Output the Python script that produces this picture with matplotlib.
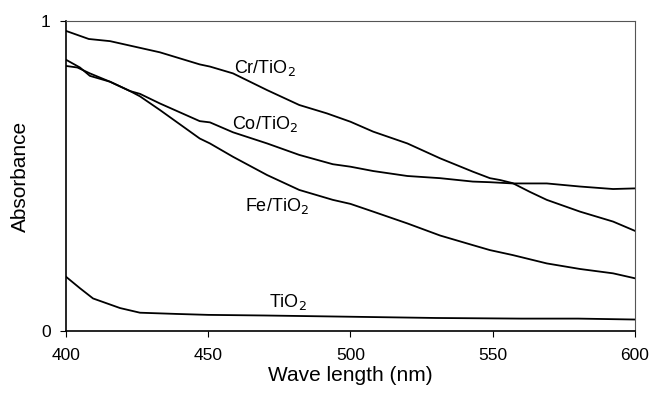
import numpy as np
import matplotlib
matplotlib.use("Agg")
import matplotlib.pyplot as plt

plt.rcParams['font.family'] = ['Liberation Sans', 'DejaVu Sans']

# spectra (wavelength nm, absorbance)
cr_wl = [400, 408, 415.5, 433, 447, 450.6, 458.7, 470.7, 482, 491.7, 500, 508, 520,
         531.5, 543, 549, 552.6, 557, 563, 569, 580.7, 592.3, 600]
cr_abs = [0.968, 0.942, 0.935, 0.899, 0.860, 0.853, 0.831, 0.777, 0.729, 0.702, 0.675,
          0.643, 0.605, 0.557, 0.514, 0.493, 0.487, 0.477, 0.449, 0.423, 0.385, 0.353, 0.323]

co_wl = [400, 404, 408.4, 415.5, 422.5, 426, 433, 447, 450.6, 458.7, 470.7, 482, 493.8,
         500, 508, 520, 531.5, 543, 549, 557, 569, 580.7, 592.3, 600]
co_abs = [0.855, 0.850, 0.831, 0.804, 0.774, 0.765, 0.734, 0.677, 0.673, 0.641, 0.605,
          0.568, 0.538, 0.530, 0.516, 0.500, 0.493, 0.482, 0.480, 0.476, 0.476, 0.466,
          0.458, 0.460]

fe_wl = [400, 404.9, 408.4, 415.5, 422.5, 426, 433, 447, 450.6, 458.7, 470.7, 482, 493.8,
         500, 508, 520, 531.5, 543, 549, 557, 569, 580.7, 592.3, 600]
fe_abs = [0.875, 0.850, 0.823, 0.804, 0.774, 0.757, 0.713, 0.621, 0.605, 0.562, 0.503,
          0.455, 0.423, 0.410, 0.385, 0.347, 0.308, 0.277, 0.261, 0.245, 0.218, 0.200,
          0.186, 0.170]

ti_wl = [400, 404.9, 409.5, 419, 426, 439, 450, 470, 500, 530, 560, 580, 600]
ti_abs = [0.175, 0.138, 0.105, 0.074, 0.059, 0.055, 0.052, 0.050, 0.046, 0.042, 0.040,
          0.040, 0.037]

labels = ['Cr/TiO$_2$', 'Co/TiO$_2$', 'Fe/TiO$_2$', 'TiO$_2$']
label_pos = [(470, 0.847), (470, 0.667), (474, 0.402), (478, 0.092)]

fig = plt.figure(figsize=(6.49, 3.94), dpi=100)
ax = fig.add_axes([0.1017, 0.1599, 0.8767, 0.7868])

for wl, ab in [(cr_wl, cr_abs), (co_wl, co_abs), (fe_wl, fe_abs), (ti_wl, ti_abs)]:
    ax.plot(wl, ab, color='black', lw=1.3)

for txt, (x, y) in zip(labels, label_pos):
    ax.text(x, y, txt, fontsize=13, ha='center', va='center')

ax.set_xlim(400, 600)
ax.set_ylim(0, 1)
ax.set_xticks([400, 450, 500, 550, 600])
ax.set_yticks([0, 1])
ax.tick_params(direction='out', length=4, width=0.8, labelsize=12.5)
ax.tick_params(axis='x', pad=8.5)
ax.tick_params(axis='y', pad=7)
ax.spines['left'].set_linewidth(1.2)
ax.spines['bottom'].set_linewidth(1.2)
ax.spines['top'].set_linewidth(0.8)
ax.spines['right'].set_linewidth(0.8)
ax.spines['top'].set_color('#555555')
ax.spines['right'].set_color('#555555')

ax.set_xlabel('Wave length (nm)', fontsize=15, labelpad=2)
ax.set_ylabel('Absorbance', fontsize=15, labelpad=8)

fig.savefig('out.png', dpi=100)
